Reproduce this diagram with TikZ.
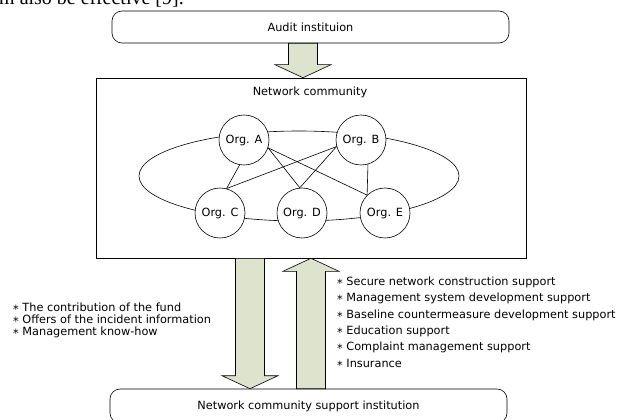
\documentclass[tikz,border=0pt]{standalone}
\usepackage{fontspec}
\setmainfont{DejaVu Sans}
\newfontfamily\paperfont{Liberation Serif}
\usetikzlibrary{calc}

\definecolor{arrowfill}{RGB}{221,227,205}

\newcommand{\itemmark}{\raisebox{-0.35ex}{*}}

\tikzset{
  org/.style={circle, line width=0.6pt, draw=black, fill=white, inner sep=0pt, minimum size=50pt, font=\fontsize{11.3}{13}\selectfont},
  institution/.style={rectangle, rounded corners=10pt, line width=0.6pt, draw=black, inner sep=0pt, font=\fontsize{11.3}{13}\selectfont},
  blockarrow/.style={line width=0.6pt, draw=black, fill=arrowfill, line join=miter},
  link/.style={line width=0.6pt, draw=black},
  itemlist/.style={align=left, inner sep=0pt, font=\fontsize{11.3}{#1}\selectfont}
}

% fat arrow from #1 to #2 (vertical)
\newcommand{\fatarrow}[2]{%
  \filldraw[blockarrow] ($(#1)+(-14.5,0)$) -- ($(#2)!13pt!(#1)+(-14.5,0)$) -- ($(#2)!13pt!(#1)+(-28,0)$) -- (#2) -- ($(#2)!13pt!(#1)+(28,0)$) -- ($(#2)!13pt!(#1)+(14.5,0)$) -- ($(#1)+(14.5,0)$) -- cycle;}

\begin{document}
\begin{tikzpicture}[x=1pt, y=-1pt]

\useasboundingbox (0, 0) rectangle (622, 420);
\clip (0, 0) rectangle (622, 420);

\node[anchor=base west, inner sep=0pt, font=\paperfont\fontsize{20}{22}\selectfont] (papertext) at (-1, 5) {m also be effective [9].};

\node[institution, minimum width=397pt, minimum height=32pt] (audit) at (310.5, 27) {Audit instituion};
\node[rectangle, line width=0.6pt, draw=black, minimum width=430pt, minimum height=180pt] (netbox) at (311, 168) {};
\node[inner sep=0pt, font=\fontsize{11.3}{13}\selectfont] (netlabel) at (310, 92) {Network community};
\node[institution, minimum width=397pt, minimum height=34pt] (support) at (308.5, 406) {Network community support institution};

% ring behind the organisations
\coordinate (ring) at (299, 176);
\draw[link] (ring) ellipse [x radius=160pt, y radius=45pt];

\node[org] (orga) at (244, 140) {Org. A};
\node[org] (orgb) at (361, 140) {Org. B};
\node[org] (orgc) at (220, 213) {Org. C};
\node[org] (orgd) at (302, 213) {Org. D};
\node[org] (orge) at (385, 213) {Org. E};

\path[link] (orga.-100) edge (orgc.75);
\path[link] (orga.-18) edge (orgd.95);
\path[link] (orga.-18) edge (orge.135);
\path[link] (orgb.195) edge (orgc.75);
\path[link] (orgb.195) edge (orgd.95);
\path[link] (orgb.-74) edge (orge.135);

% arrows
\coordinate (auditout) at ($(audit.south)+(-7.5,0)$);
\coordinate (netin) at (auditout |- netbox.north);
\fatarrow{auditout}{netin}

\coordinate (fundout) at ($(netbox.south)+(-61,0)$);
\coordinate (fundin) at (fundout |- support.north);
\fatarrow{fundout}{fundin}

\coordinate (supportout) at (netbox.south |- support.north);
\fatarrow{supportout}{netbox.south}

\node[itemlist=12pt, anchor=west] (offers) at (13, 320) {\itemmark\ The contribution of the fund\\\itemmark\ Offers of the incident information\\\itemmark\ Management know-how};
\node[itemlist=16.4pt, anchor=west] (supports) at (337, 323) {\itemmark\ Secure network construction support\\\itemmark\ Management system development support\\\itemmark\ Baseline countermeasure development support\\\itemmark\ Education support\\\itemmark\ Complaint management support\\\itemmark\ Insurance};

\end{tikzpicture}
\end{document}
